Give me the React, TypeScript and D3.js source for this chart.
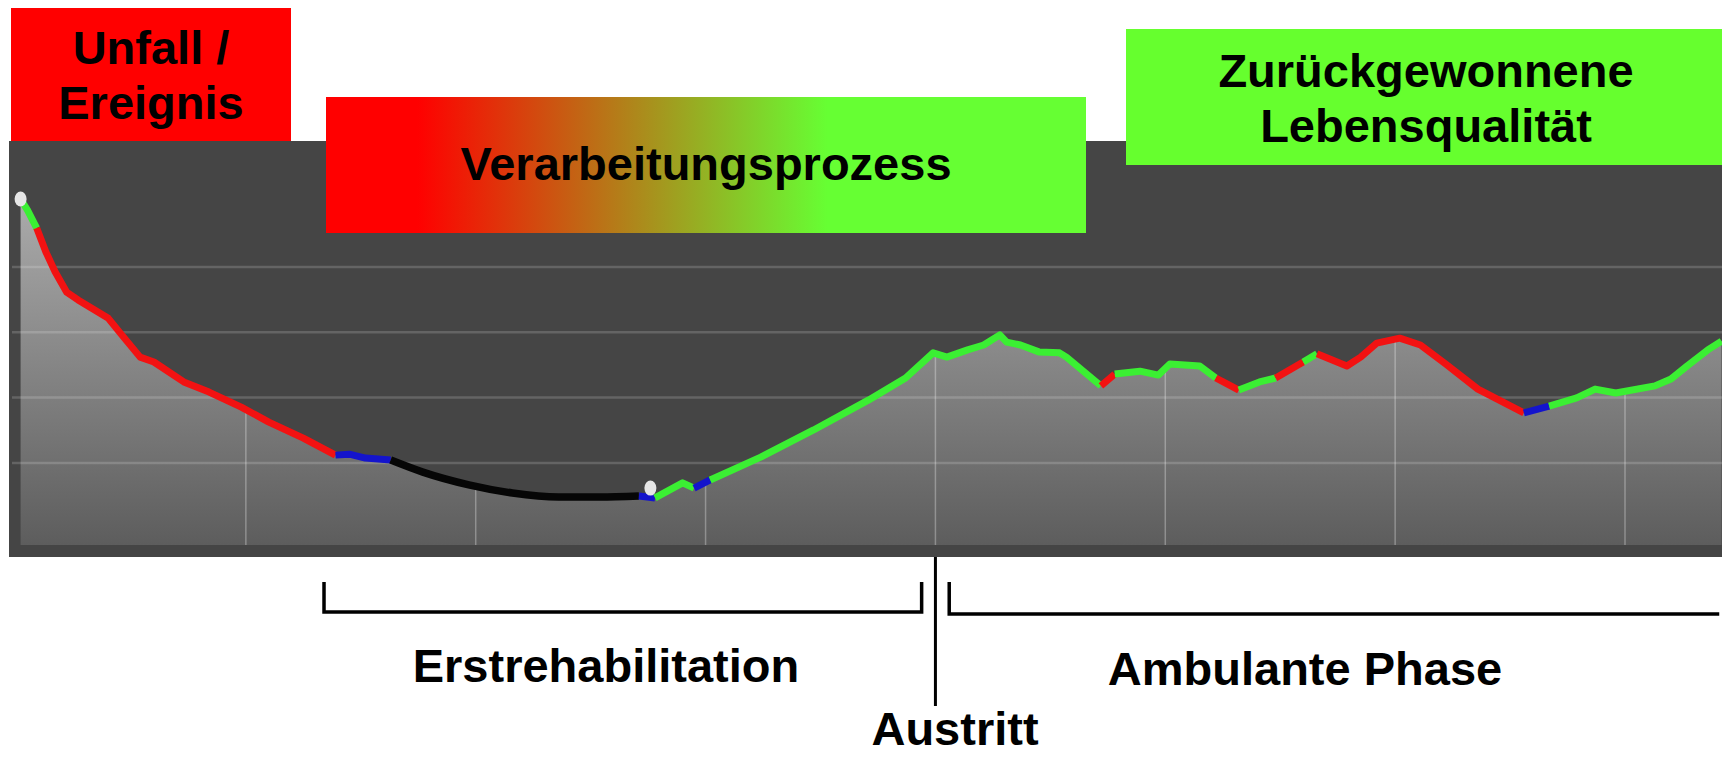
import React from 'react';
import * as d3 from 'd3';

const W = 1722;
const H = 758;

// Verlauf: x in Abschnitten (Gitter bei 1..7), y als Index 0..100 (Gitter bei 20/40/60/80)
const trackT = [
  0.02, 0.05, 0.09, 0.13, 0.17, 0.22, 0.27, 0.40, 0.46, 0.54, 0.60, 0.73, 0.84, 0.98, 1.10, 1.25,
  1.39, 1.45, 1.52, 1.63, 1.77, 1.97, 2.16, 2.36, 2.54, 2.71, 2.78, 2.90, 2.95, 3.02, 3.24, 3.47,
  3.71, 3.87, 3.99, 4.05, 4.14, 4.21, 4.28, 4.31, 4.37, 4.45, 4.54, 4.57, 4.72, 4.78, 4.89, 4.97,
  5.02, 5.15, 5.22, 5.32, 5.41, 5.48, 5.60, 5.66, 5.79, 5.85, 5.92, 6.02, 6.11, 6.22, 6.36, 6.56,
  6.67, 6.79, 6.87, 6.96, 7.13, 7.20, 7.27, 7.36, 7.42,
];
const trackV = [
  100.8, 97.4, 91.9, 84.6, 78.5, 72.3, 69.9, 64.4, 59.2, 52.4, 50.9, 44.8, 41.7, 37.1, 32.5, 27.6,
  22.4, 22.7, 21.5, 20.9, 17.2, 13.3, 10.8, 9.6, 9.6, 9.9, 9.3, 13.9, 12.3, 14.8, 21.8, 30.1,
  39.3, 46.0, 53.7, 52.4, 54.6, 56.1, 59.2, 57.0, 56.1, 54.0, 53.7, 52.4, 43.6, 47.2, 48.1, 46.9,
  50.3, 49.7, 46.0, 42.3, 44.8, 46.0, 50.9, 53.4, 49.7, 52.4, 56.7, 58.2, 56.1, 50.3, 42.6, 35.3,
  37.4, 39.9, 42.6, 41.4, 43.6, 45.7, 49.7, 54.6, 57.3,
];
// Farbe des Abschnitts ab jedem Punkt: G grün, R rot, B blau, K schwarz
const trackColor = 'GGRRRRRRRRRRRRRRBBBKKKKKKBGGBGGGGGGGGGGGGGGGRGGGGGRGGRGRRRRRRRRBGGGGGGGGG'.split('');

const markerT = [0.02, 2.76];
const markerV = [100.8, 12.3];

const xTicks = [1, 2, 3, 4, 5, 6, 7];
const yTicks = [20, 40, 60, 80];

const austrittT = 4;
const rehaRange = [1.34, 3.94];
const ambulantRange = [4.06, 7.41];

const colors: Record<string, string> = {
  G: '#3bef33',
  R: '#f21212',
  B: '#1414cc',
  K: '#060606',
};

const font = '"Liberation Sans", Arial, Helvetica, sans-serif';

const App = () => {
  const x = d3.scaleLinear().domain([0, 7]).range([16, 1625]);
  const y = d3.scaleLinear().domain([0, 100]).range([528.3, 201.6]);

  const plotBottom = 545;
  const pts = trackT.map((t, i) => ({ t, v: trackV[i], c: trackColor[i] }));

  const area = d3
    .area<any>()
    .x((d) => x(d.t))
    .y0(plotBottom)
    .y1((d) => y(d.v));

  const straight = d3
    .line<any>()
    .x((d) => x(d.t))
    .y((d) => y(d.v));
  const smooth = d3
    .line<any>()
    .x((d) => x(d.t))
    .y((d) => y(d.v))
    .curve(d3.curveMonotoneX);

  // farbige Abschnitte zusammenfassen
  const runs: { c: string; pts: any[] }[] = [];
  for (let i = 0; i < pts.length - 1; i++) {
    const last = runs[runs.length - 1];
    if (last && last.c === pts[i].c) {
      last.pts.push(pts[i + 1]);
    } else {
      runs.push({ c: pts[i].c, pts: [pts[i], pts[i + 1]] });
    }
  }

  const label = { fontFamily: font, fontWeight: 700, fontSize: 47, fill: '#000', textAnchor: 'middle' as const };

  return (
    <svg width={W} height={H} style={{ position: 'absolute', left: 0, top: 0, background: '#fff' }}>
      <defs>
        <linearGradient id="areaFill" gradientUnits="userSpaceOnUse" x1="0" y1="190" x2="0" y2={plotBottom}>
          <stop offset="0%" stopColor="#adadad" />
          <stop offset="100%" stopColor="#5d5d5d" />
        </linearGradient>
        <linearGradient id="procFill" x1="0" y1="0" x2="1" y2="0">
          <stop offset="12%" stopColor="#ff0000" />
          <stop offset="66%" stopColor="#66ff33" />
        </linearGradient>
        <clipPath id="areaClip">
          <path d={area(pts) || ''} />
        </clipPath>
      </defs>

      <rect x={9} y={141} width={W - 9} height={416} fill="#454545" />
      <path d={area(pts) || ''} fill="url(#areaFill)" />

      {yTicks.map((v) => (
        <line key={v} x1={12} x2={W} y1={y(v)} y2={y(v)} stroke="#fff" strokeOpacity={0.17} strokeWidth={2.5} />
      ))}
      <g clipPath="url(#areaClip)">
        {xTicks.map((t) => (
          <line key={t} x1={x(t)} x2={x(t)} y1={141} y2={plotBottom} stroke="#fff" strokeOpacity={0.3} strokeWidth={1.5} />
        ))}
      </g>

      {runs.map((r, i) => (
        <path
          key={i}
          d={(r.c === 'K' ? smooth(r.pts) : straight(r.pts)) || ''}
          fill="none"
          stroke={colors[r.c]}
          strokeWidth={r.c === 'K' ? 7.5 : 7}
          strokeLinejoin="round"
        />
      ))}
      {markerT.map((t, i) => (
        <ellipse key={i} cx={x(t)} cy={y(markerV[i])} rx={6} ry={7.5} fill="#e6e6e6" />
      ))}

      <rect x={11} y={8} width={280} height={133} fill="#ff0000" />
      <text {...label} x={151} y={64}>Unfall /</text>
      <text {...label} x={151} y={119}>Ereignis</text>

      <rect x={326} y={97} width={760} height={136} fill="url(#procFill)" />
      <text {...label} x={706} y={180}>Verarbeitungsprozess</text>

      <rect x={1126} y={29} width={W - 1126} height={136} fill="#66ff2e" />
      <text {...label} x={1426} y={87}>Zurückgewonnene</text>
      <text {...label} x={1426} y={142}>Lebensqualität</text>

      <line x1={x(austrittT)} x2={x(austrittT)} y1={557} y2={706} stroke="#000" strokeWidth={3} />
      <path
        d={`M${x(rehaRange[0])},582 V612 H${x(rehaRange[1])} V582`}
        fill="none"
        stroke="#000"
        strokeWidth={3.5}
      />
      <path d={`M${x(ambulantRange[0])},582 V614 H${x(ambulantRange[1])}`} fill="none" stroke="#000" strokeWidth={3.5} />

      <text {...label} x={606} y={682}>Erstrehabilitation</text>
      <text {...label} x={1305} y={685}>Ambulante Phase</text>
      <text {...label} x={955} y={745}>Austritt</text>
    </svg>
  );
};

export default App;
